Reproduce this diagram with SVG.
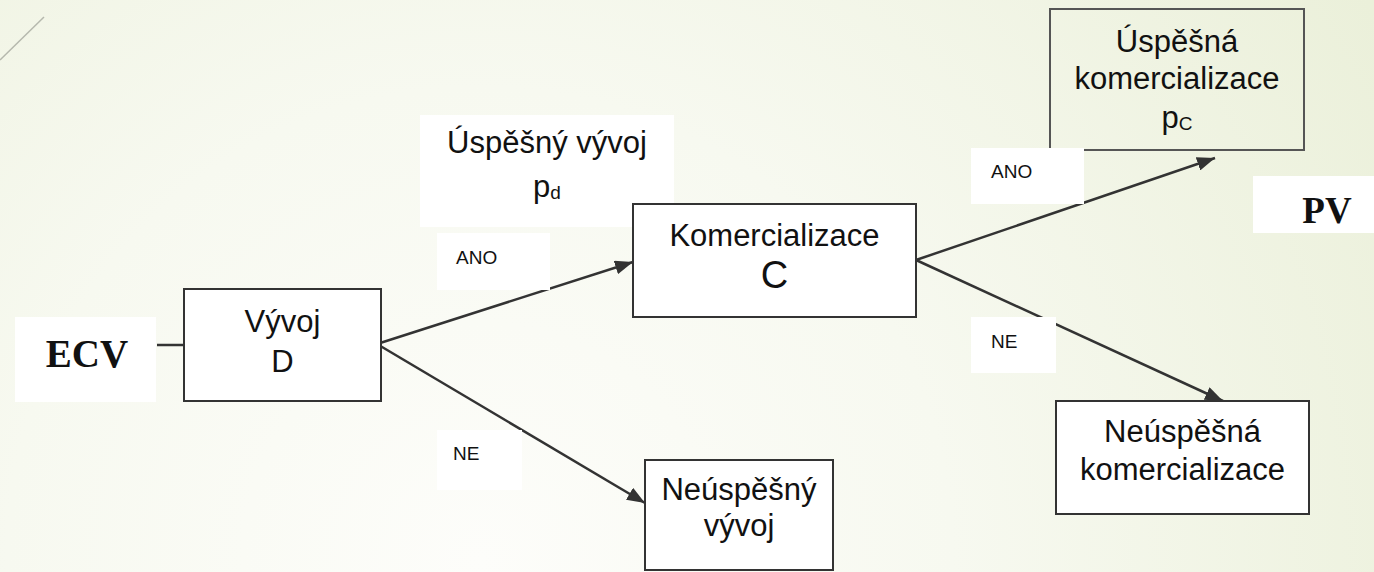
<svg xmlns="http://www.w3.org/2000/svg" width="1374" height="572" viewBox="0 0 1374 572">
<defs>
<radialGradient id="bg" cx="480" cy="560" r="1050" gradientUnits="userSpaceOnUse">
<stop offset="0" stop-color="#fdfdfa"/>
<stop offset="0.45" stop-color="#f7f9f0"/>
<stop offset="1" stop-color="#ebf0da"/>
</radialGradient>
<marker id="arr" viewBox="0 0 18 14" refX="18" refY="7" markerWidth="18" markerHeight="14" markerUnits="userSpaceOnUse" orient="auto">
<path d="M0,0 L18,7 L0,14 z" fill="#333"/>
</marker>
</defs>
<style>
.box{fill:#fff;stroke:#333;stroke-width:2}
.box2{fill:none;stroke:#555;stroke-width:2}
.lbl{fill:#fff}
.t{font-family:"Liberation Sans",Arial,sans-serif;font-size:31px;fill:#111;text-anchor:middle}
.big{font-size:38px}
.s{font-family:"Liberation Sans",Arial,sans-serif;font-size:19px;fill:#111}
.b{font-family:"Liberation Serif","Times New Roman",serif;font-weight:bold;font-size:39px;fill:#111;text-anchor:middle}
.b2{font-size:37px}
.c{stroke:#333;stroke-width:2.5;fill:none}
</style>
<rect x="0" y="0" width="1374" height="572" fill="url(#bg)"/>
<line x1="0" y1="60" x2="44" y2="17" stroke="#b5b8ad" stroke-width="1.5"/>

<g id="connectors">
<line class="c" x1="157" y1="345" x2="184" y2="345"/>
<line class="c" x1="377" y1="344" x2="633" y2="262" marker-end="url(#arr)"/>
<line class="c" x1="377" y1="344" x2="645" y2="503" marker-end="url(#arr)"/>
<line class="c" x1="916" y1="260" x2="1215" y2="158" marker-end="url(#arr)"/>
<line class="c" x1="916" y1="260" x2="1223" y2="401" marker-end="url(#arr)"/>
</g>

<g id="ecv">
<rect class="lbl" x="15" y="317" width="141" height="85"/>
<text class="b" x="87" y="367">ECV</text>
</g>

<g id="vyvoj">
<rect class="box" x="184" y="289" width="197" height="112"/>
<text class="t" x="282.5" y="332">Vývoj</text>
<text class="t" x="282.5" y="372">D</text>
</g>

<g id="uspesny-vyvoj">
<rect class="lbl" x="420" y="115" width="254" height="112"/>
<text class="t" x="547" y="153">Úspěšný vývoj</text>
<text class="t" x="547" y="197">p<tspan font-size="19" dy="2">d</tspan></text>
</g>

<g id="ano1">
<rect class="lbl" x="437" y="233" width="113" height="57"/>
<text class="s" x="456" y="264">ANO</text>
</g>

<g id="ne1">
<rect class="lbl" x="437" y="430" width="85" height="60"/>
<text class="s" x="453" y="460">NE</text>
</g>

<g id="komercializace">
<rect class="box" x="633" y="204" width="283" height="113"/>
<text class="t" x="774.5" y="246">Komercializace</text>
<text class="t big" x="774.5" y="288">C</text>
</g>

<g id="neuspesny-vyvoj">
<rect class="box" x="645" y="460" width="188" height="110"/>
<text class="t" x="739" y="500">Neúspěšný</text>
<text class="t" x="739" y="536">vývoj</text>
</g>

<g id="uspesna-komercializace">
<rect class="box2" x="1050" y="9" width="254" height="141"/>
<text class="t" x="1177" y="52">Úspěšná</text>
<text class="t" x="1177" y="89">komercializace</text>
<text class="t" x="1177" y="128">p<tspan font-size="19" dy="2">C</tspan></text>
</g>

<g id="ano2">
<rect class="lbl" x="971" y="148" width="113" height="56"/>
<text class="s" x="991" y="178">ANO</text>
</g>

<g id="ne2">
<rect class="lbl" x="971" y="317" width="85" height="56"/>
<text class="s" x="991" y="348">NE</text>
</g>

<g id="pv">
<rect class="lbl" x="1253" y="176" width="121" height="57"/>
<text class="b b2" x="1327" y="223">PV</text>
</g>

<g id="neuspesna-komercializace">
<rect class="box" x="1056" y="401" width="253" height="113"/>
<text class="t" x="1182.5" y="442">Neúspěšná</text>
<text class="t" x="1182.5" y="480">komercializace</text>
</g>
</svg>
